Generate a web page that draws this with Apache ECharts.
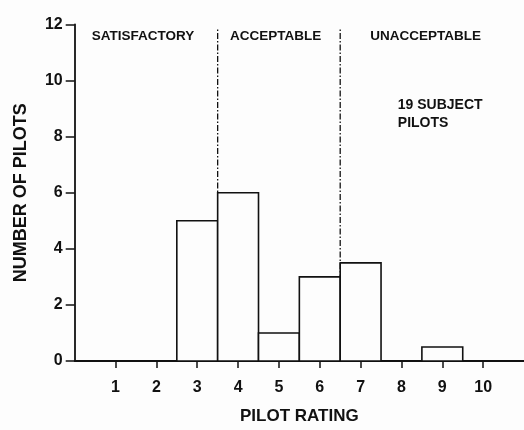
<!DOCTYPE html>
<html>
<head>
<meta charset="utf-8">
<script src="https://cdn.jsdelivr.net/npm/echarts@6/dist/echarts.min.js"></script>
<style>
  html, body { margin: 0; padding: 0; background: #fdfdfd; }
  #chart { width: 524px; height: 430px; }
</style>
</head>
<body>
<div id="chart"></div>
<script>
// Pilot rating histogram
const ratings = [1, 2, 3, 4, 5, 6, 7, 8, 9, 10];
const pilotCounts = [0, 0, 5, 6, 1, 3, 3.5, 0, 0.5, 0];
const yTicks = [0, 2, 4, 6, 8, 10, 12];

// Rating boundaries between the three regions
const regionBounds = [3.5, 6.5];
const regionNames = ['SATISFACTORY', 'ACCEPTABLE', 'UNACCEPTABLE'];
const subjectNote = '19 SUBJECT\nPILOTS';

const FONT = '"Liberation Sans", Arial, Helvetica, sans-serif';
const INK = '#111111';

// anchor points (rating, count) for the annotation text
const regionLabelAt = [[1.67, 11.59], [4.92, 11.59], [8.59, 11.59]];
const noteAt = [7.91, 8.8];

const chart = echarts.init(document.getElementById('chart'), null, { renderer: 'canvas' });

const bars = ratings.map((r, i) => [r, pilotCounts[i]]).filter(d => d[1] > 0);

const series = [];

regionBounds.forEach(b => {
  series.push({
    type: 'line',
    data: [[b, 0], [b, 11.85]],
    symbol: 'none',
    silent: true,
    z: 1,
    lineStyle: { color: INK, width: 1.3, type: [6, 2, 1.5, 2] }
  });
});

series.push({
  type: 'custom',
  z: 3,
  data: bars,
  renderItem: (params, api) => {
    const x = api.value(0), y = api.value(1);
    const p0 = api.coord([x - 0.5, 0]);
    const p1 = api.coord([x + 0.5, y]);
    return {
      type: 'rect',
      shape: { x: p0[0], y: p1[1], width: p1[0] - p0[0], height: p0[1] - p1[1] },
      style: { fill: '#fdfdfd', stroke: INK, lineWidth: 1.6 }
    };
  }
});

const textStyle = (size) => ({
  color: INK, fontFamily: FONT, fontWeight: 'bold', fontSize: size, opacity: 1
});

series.push({
  type: 'scatter',
  symbolSize: 0,
  silent: true,
  itemStyle: { opacity: 1, color: INK },
  data: regionLabelAt.map((p, i) => ({ value: p, name: regionNames[i] })),
  label: Object.assign({
    show: true, position: 'right', distance: 0, align: 'center', verticalAlign: 'middle',
    formatter: p => p.name
  }, textStyle(13.5))
});

series.push({
  type: 'scatter',
  symbolSize: 0,
  silent: true,
  itemStyle: { opacity: 1, color: INK },
  data: [{ value: noteAt, name: subjectNote }],
  label: Object.assign({
    show: true, position: 'right', distance: 0, align: 'left',
    formatter: p => p.name, lineHeight: 17.6
  }, textStyle(14))
});

chart.setOption({
  backgroundColor: '#fdfdfd',
  animation: false,
  grid: { left: 74.7, top: 24.5, width: 462, height: 338 },
  xAxis: {
    type: 'value', min: 0, max: 11, interval: 1,
    name: 'PILOT RATING', nameLocation: 'middle', nameGap: 47,
    nameTextStyle: textStyle(17),
    axisLine: { show: true, onZero: false, lineStyle: { color: INK, width: 1.8 } },
    axisTick: { show: true, length: 7, customValues: ratings, lineStyle: { color: INK, width: 1.5 } },
    axisLabel: Object.assign({ customValues: ratings, margin: 19 }, textStyle(16)),
    splitLine: { show: false }
  },
  yAxis: {
    type: 'value', min: 0, max: 12, interval: 2,
    name: 'NUMBER OF PILOTS', nameLocation: 'middle', nameGap: 45,
    nameTextStyle: textStyle(18),
    axisLine: { show: true, lineStyle: { color: INK, width: 1.8 } },
    axisTick: { show: true, length: 9, customValues: yTicks, lineStyle: { color: INK, width: 1.5 } },
    axisLabel: Object.assign({ customValues: yTicks, margin: 12 }, textStyle(16)),
    splitLine: { show: false }
  },
  series: series
});
</script>
</body>
</html>
